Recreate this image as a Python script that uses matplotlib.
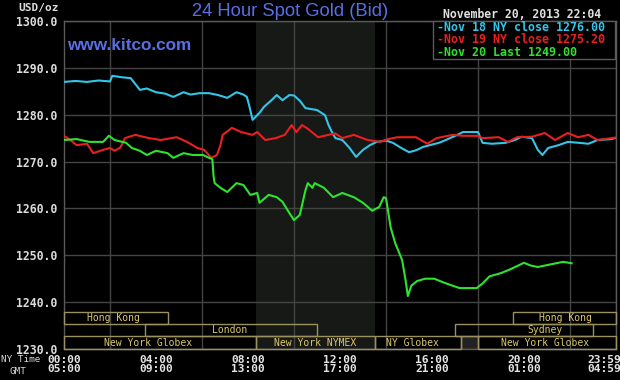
import matplotlib
matplotlib.use("Agg")
import matplotlib.pyplot as plt
from matplotlib.patches import Rectangle
from matplotlib.ticker import MultipleLocator, FixedLocator

# ---------------- data ----------------
nov18_t = [0.0, 0.5, 1.0, 1.5, 2.0, 2.1, 2.5, 2.9, 3.3, 3.6, 4.0, 4.4, 4.75, 5.2, 5.5, 5.9,
           6.3, 6.7, 7.1, 7.5, 7.8, 7.95, 8.05, 8.2, 8.5, 8.7, 9.0, 9.25, 9.5, 9.8, 10.0,
           10.25, 10.5, 11.0, 11.35, 11.5, 11.65, 11.8, 12.1, 12.4, 12.7, 13.0, 13.3, 13.6,
           14.0, 14.3, 14.7, 15.0, 15.3, 15.6, 15.9, 16.3, 16.6, 17.1, 17.35, 18.0, 18.2,
           18.6, 19.2, 19.6, 19.9, 20.35, 20.6, 20.8, 21.05, 21.5, 21.9, 22.4, 22.8, 23.2,
           23.8, 23.95]
nov18_v = [1287.0, 1287.2, 1287.0, 1287.3, 1287.1, 1288.3, 1288.0, 1287.8, 1285.3, 1285.6,
           1284.8, 1284.5, 1283.8, 1284.8, 1284.3, 1284.6, 1284.6, 1284.2, 1283.6, 1284.8,
           1284.3, 1283.8, 1282.0, 1278.9, 1280.4, 1281.7, 1283.0, 1284.2, 1283.1, 1284.2,
           1284.1, 1283.0, 1281.4, 1281.0, 1279.9, 1277.8, 1276.3, 1275.0, 1274.6, 1273.0,
           1271.0, 1272.5, 1273.5, 1274.2, 1274.5, 1274.0, 1272.8, 1272.0, 1272.4, 1273.1,
           1273.5, 1274.0, 1274.6, 1275.7, 1276.3, 1276.3, 1274.0, 1273.8, 1274.0, 1274.6,
           1275.3, 1275.0, 1272.5, 1271.4, 1272.9, 1273.5, 1274.2, 1274.0, 1273.8, 1274.6,
           1274.8, 1275.0]

nov19_t = [0.0, 0.3, 0.55, 1.0, 1.27, 1.7, 2.0, 2.2, 2.45, 2.65, 3.1, 3.7, 4.2, 4.9, 5.35,
           5.8, 6.1, 6.4, 6.65, 6.8, 6.9, 7.3, 7.7, 8.2, 8.4, 8.75, 9.2, 9.6, 9.9, 10.1,
           10.35, 10.6, 11.05, 11.5, 11.8, 12.1, 12.6, 13.2, 13.75, 14.1, 14.5, 15.3, 15.8,
           16.2, 16.9, 17.35, 18.0, 18.2, 18.9, 19.3, 19.7, 20.35, 20.9, 21.35, 21.9, 22.35,
           22.8, 23.2, 23.8, 23.95]
nov19_v = [1275.5, 1274.5, 1273.5, 1273.8, 1271.8, 1272.5, 1272.9, 1272.3, 1273.0, 1275.0,
           1275.7, 1275.0, 1274.6, 1275.2, 1274.2, 1272.9, 1272.5, 1270.8, 1271.4, 1273.5,
           1275.7, 1277.2, 1276.3, 1275.7, 1276.3, 1274.6, 1275.0, 1275.7, 1277.8, 1276.3,
           1277.8, 1277.0, 1275.2, 1275.7, 1276.0, 1275.0, 1275.7, 1274.6, 1274.2, 1274.8,
           1275.2, 1275.2, 1273.8, 1275.0, 1275.7, 1275.5, 1275.5, 1275.0, 1275.2, 1274.2,
           1275.2, 1275.3, 1276.1, 1274.6, 1276.1, 1275.2, 1275.7, 1274.6, 1275.0, 1275.1]

nov20_t = [0.0, 0.55, 1.1, 1.7, 1.95, 2.2, 2.7, 2.95, 3.3, 3.6, 4.0, 4.5, 4.75, 5.2, 5.6,
           6.05, 6.3, 6.45, 6.5, 6.55, 6.8, 7.1, 7.5, 7.8, 8.1, 8.4, 8.5, 8.9, 9.25, 9.5,
           9.8, 10.0, 10.25, 10.5, 10.6, 10.8, 10.9, 11.3, 11.7, 12.1, 12.6, 13.0, 13.4,
           13.7, 13.9, 14.0, 14.2, 14.4, 14.7, 14.85, 14.95, 15.1, 15.35, 15.7, 16.1, 16.5,
           16.9, 17.2, 17.95, 18.2, 18.5, 19.0, 19.4, 20.0, 20.3, 20.6, 21.1, 21.7, 22.07]
nov20_v = [1274.6, 1274.8, 1274.2, 1274.2, 1275.5, 1274.6, 1274.0, 1272.9, 1272.3, 1271.4,
           1272.3, 1271.8, 1270.8, 1271.8, 1271.4, 1271.4, 1270.8, 1270.5, 1267.0, 1265.4,
           1264.4, 1263.5, 1265.4, 1265.0, 1262.9, 1263.3, 1261.2, 1262.9, 1262.4, 1261.4,
           1259.0, 1257.5, 1258.6, 1263.9, 1265.4, 1264.4, 1265.4, 1264.4, 1262.4, 1263.3,
           1262.4, 1261.2, 1259.5, 1260.3, 1262.4, 1262.2, 1256.0, 1252.6, 1249.0, 1244.7,
           1241.3, 1243.5, 1244.5, 1245.0, 1245.0, 1244.2, 1243.5, 1243.0, 1243.0, 1244.0,
           1245.5, 1246.2, 1247.0, 1248.4, 1247.8, 1247.5, 1248.0, 1248.6, 1248.3]

legend_labels = ["-Nov 18 NY close 1276.00", "-Nov 19 NY close 1275.20", "-Nov 20 Last 1249.00"]

tick_hours = [0, 4, 8, 12, 16, 20, 23.5]
tick_ny = ["00:00", "04:00", "08:00", "12:00", "16:00", "20:00", "23:59"]
tick_gmt = ["05:00", "09:00", "13:00", "17:00", "21:00", "01:00", "04:59"]

nymex_span = (8.333, 13.5)

# sessions: name, start, end, row, label hour
sess_names = ["Hong Kong", "Hong Kong", "London", "Sydney", "New York Globex",
              "New York NYMEX", "NY Globex", "New York Globex"]
sess_start = [0.0, 19.5, 3.5, 17.0, 0.0, 8.333, 13.5, 18.0]
sess_end = [4.5, 24.0, 11.0, 23.0, 8.333, 13.5, 17.25, 24.0]
sess_row = [0, 0, 1, 1, 2, 2, 2, 2]
sess_label = [2.15, 21.8, 7.2, 20.9, 3.65, 10.9, 15.15, 20.9]
gap_span = (17.25, 18.0)

# ---------------- style ----------------
W, H = 620, 380
fig = plt.figure(figsize=(W / 100, H / 100), dpi=100, facecolor="black")
ax = fig.add_axes([64 / W, 1 - 349 / H, 552 / W, 328 / H], facecolor="black")

def px(x, y):
    return x / W, 1 - y / H

MONO = "DejaVu Sans Mono"
SANS = "Liberation Sans"
BLUE = "#5870e4"
GRID = "#444444"
c18, c19, c20 = "#34c6e8", "#e82020", "#2ee22e"

ax.set_xlim(0, 24)
ax.set_ylim(1230, 1300)

ax.axvspan(*nymex_span, color="#171917", zorder=0, lw=0)

ax.xaxis.set_minor_locator(MultipleLocator(2))
ax.yaxis.set_major_locator(MultipleLocator(10))
ax.xaxis.set_major_locator(FixedLocator(tick_hours))
ax.grid(False)
ax.grid(True, which="minor", axis="x", color=GRID, lw=1.0, zorder=1)
ax.grid(True, which="major", axis="y", color=GRID, lw=1.0, zorder=1)

ax.set_xticklabels([f"{a}\n{b}" for a, b in zip(tick_ny, tick_gmt)],
                   fontfamily=MONO, fontweight="bold", fontsize=8.1,
                   color="#e4e4e4", linespacing=0.98)
ax.set_yticks([1230, 1240, 1250, 1260, 1270, 1280, 1290, 1300])
ax.set_yticklabels([f"{v:.1f}" for v in ax.get_yticks()],
                   fontfamily=MONO, fontweight="bold", fontsize=8.3, color="#dcdcdc")
ax.tick_params(axis="both", which="both", length=0)
ax.tick_params(axis="x", pad=4)
ax.tick_params(axis="y", pad=5)
for s in ax.spines.values():
    s.set_color("#5a5a5a")
    s.set_linewidth(1.0)

# session bands
row_bounds = [(1235.35, 1238.0), (1232.7, 1235.35), (1230.05, 1232.7)]
BOX = "#9a9060"
TXT = "#dcc868"
x0, x1 = gap_span
ax.add_patch(Rectangle((x0, row_bounds[2][0]), x1 - x0, row_bounds[2][1] - row_bounds[2][0],
                       facecolor="#222222", edgecolor=BOX, lw=1.0, zorder=3))
for name, a, b, r, lx in zip(sess_names, sess_start, sess_end, sess_row, sess_label):
    lo, hi = row_bounds[r]
    ax.add_patch(Rectangle((a, lo), b - a, hi - lo, facecolor="none",
                           edgecolor=BOX, lw=1.0, zorder=3, clip_on=False))
    ax.text(lx, (lo + hi) / 2, name, ha="center", va="center", fontfamily=MONO,
            fontsize=7.0, color=TXT, zorder=4)

# lines
ax.plot(nov18_t, nov18_v, color=c18, lw=1.5, zorder=5)
ax.plot(nov19_t, nov19_v, color=c19, lw=1.5, zorder=6)
ax.plot(nov20_t, nov20_v, color=c20, lw=1.5, zorder=7)

# legend box
lx0, ly0, lx1, ly1 = 433, 21, 615, 59
fig.patches.append(Rectangle(px(lx0, ly1), (lx1 - lx0) / W, (ly1 - ly0) / H,
                             transform=fig.transFigure, facecolor="black",
                             edgecolor="#5a5a5a", lw=1.0, zorder=10))
for i, (lab, col) in enumerate(zip(legend_labels, [c18, c19, c20])):
    fig.text(*px(437, 27.5 + 12.3 * i), lab, ha="left", va="center", fontfamily=MONO,
             fontweight="bold", fontsize=8.4, color=col, zorder=11)

# header texts
fig.text(*px(290, 11), "24 Hour Spot Gold (Bid)", ha="center", va="center",
         fontfamily=SANS, fontsize=13.2, color=BLUE)
fig.text(*px(67, 46), "www.kitco.com", ha="left", va="center",
         fontfamily=SANS, fontweight="bold", fontsize=12.3, color=BLUE)
fig.text(*px(18, 8.5), "USD/oz", ha="left", va="center", fontfamily=MONO,
         fontweight="bold", fontsize=8.0, color="#dcdcdc")
fig.text(*px(443, 14), "November 20, 2013 22:04", ha="left", va="center",
         fontfamily=MONO, fontweight="bold", fontsize=8.3, color="#e0e0e0")
fig.text(*px(1, 360), "NY Time", ha="left", va="center", fontfamily=MONO,
         fontsize=6.7, color="#d8d8d8")
fig.text(*px(10, 372), "GMT", ha="left", va="center", fontfamily=MONO,
         fontsize=6.7, color="#d8d8d8")

fig.savefig("out.png", dpi=100, facecolor="black")
